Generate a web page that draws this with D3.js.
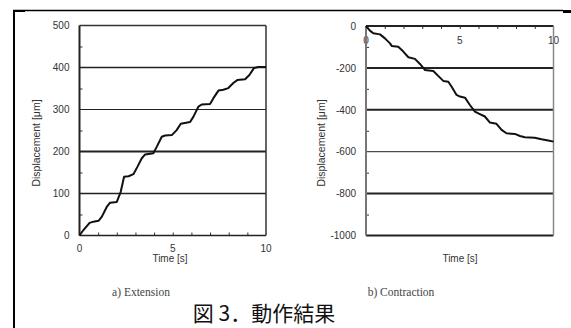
<!DOCTYPE html>
<html>
<head>
<meta charset="utf-8">
<script src="https://cdn.jsdelivr.net/npm/d3@7"></script>
<style>
  body { margin: 0; background: #fff; }
  svg { display: block; }
  .tick text { font-family: "Liberation Sans", Arial, sans-serif; font-size: 10px; fill: #333; }
  .lbl { font-family: "Liberation Sans", Arial, sans-serif; font-size: 10px; fill: #333; }
  .ytl { font-family: "Liberation Sans", Arial, sans-serif; font-size: 10.5px; fill: #333; }
  .cap { font-family: "Liberation Serif", "Times New Roman", serif; font-size: 11.5px; fill: #444; }
</style>
</head>
<body>
<svg width="571" height="328"></svg>
<script>
// a) extension, time [s] and displacement [um]
const extTime = [0, 0.21, 0.54, 0.75, 1.02, 1.2, 1.46, 1.64, 2.0, 2.21, 2.39, 2.63, 2.89, 3.11, 3.34, 3.52, 3.96, 4.14, 4.41, 4.59, 4.95, 5.21, 5.43, 5.93, 6.11, 6.38, 6.55, 7.0, 7.18, 7.45, 7.71, 7.98, 8.25, 8.46, 8.88, 9.11, 9.36, 9.59, 10];
const extDisp = [0, 13, 30, 33, 35, 45, 68, 78, 80, 104, 140, 141, 146, 164, 184, 193, 196, 211, 235, 238, 239, 251, 266, 270, 283, 307, 312, 313, 327, 345, 347, 351, 363, 370, 372, 382, 399, 401, 401];
// b) contraction
const conTime = [0, 0.21, 0.39, 0.75, 1.01, 1.28, 1.37, 1.72, 1.99, 2.26, 2.61, 2.88, 3.14, 3.59, 3.85, 4.12, 4.39, 4.56, 4.83, 5.01, 5.28, 5.54, 5.81, 5.99, 6.34, 6.61, 6.96, 7.23, 7.49, 7.94, 8.21, 8.47, 9.0, 9.36, 9.72, 10];
const conDisp = [0, -22, -35, -40, -59, -83, -95, -99, -122, -149, -157, -181, -210, -215, -238, -262, -266, -289, -329, -337, -342, -377, -409, -417, -432, -461, -467, -496, -512, -515, -525, -531, -533, -541, -547, -552];

const xTicks = [0, 5, 10];
const extYTicks = [0, 100, 200, 300, 400, 500];
const conYTicks = [0, -200, -400, -600, -800, -1000];
const extGrid = [100, 200, 300, 400];
const conGrid = [-200, -400, -600, -800];
const extMinor = [50, 150, 250, 350, 450];
const conMinor = [-100, -300, -500, -700, -900];
const secTicks = d3.range(1, 10);

const svg = d3.select("svg");

// frame around the figure
svg.append("line").attr("x1", 14).attr("x2", 14).attr("y1", 10).attr("y2", 328)
  .attr("stroke", "#000").attr("stroke-width", 2);
svg.append("line").attr("x1", 13).attr("x2", 563).attr("y1", 10.5).attr("y2", 10.5)
  .attr("stroke", "#000").attr("stroke-width", 1.5);
svg.append("rect").attr("x", 563).attr("y", 10).attr("width", 8).attr("height", 3).attr("fill", "#000");
svg.append("rect").attr("x", 14).attr("y", 10).attr("width", 11).attr("height", 2).attr("fill", "#000");

const gridW = { 100: 1.6, 200: 2, 300: 1, 400: 1.6, "-200": 2, "-400": 2, "-600": 1, "-800": 2 };

function panel(opt) {
  const x = d3.scaleLinear().domain([0, 10]).range(opt.xr);
  const y = d3.scaleLinear().domain(opt.yd).range(opt.yr);
  const g = svg.append("g");

  // gridlines
  g.selectAll(".grid").data(opt.grid).join("line")
    .attr("x1", x(0)).attr("x2", x(10))
    .attr("y1", d => y(d)).attr("y2", d => y(d))
    .attr("stroke", "#222").attr("stroke-width", d => gridW[d]);

  // minor y ticks, inward
  g.append("g").attr("transform", `translate(${x(0)},0)`)
    .call(d3.axisLeft(y).tickValues(opt.minor).tickSize(-3).tickFormat(""))
    .call(a => a.select(".domain").remove())
    .selectAll("line").attr("stroke", "#333");

  // y labels (plain hyphen minus, no thousands comma)
  g.append("g").attr("transform", `translate(${x(0) - 6},0)`)
    .call(d3.axisLeft(y).tickValues(opt.yTicks).tickSize(0).tickPadding(4).tickFormat(d => String(d)))
    .call(a => a.select(".domain").remove());

  // seconds ticks
  const xAxis = opt.top ? d3.axisTop(x) : d3.axisBottom(x);
  g.append("g").attr("transform", `translate(0,${opt.top ? y(0) : y(opt.yd[0])})`)
    .call(xAxis.tickValues(secTicks).tickSize(-3).tickFormat(""))
    .call(a => a.select(".domain").remove())
    .selectAll("line").attr("stroke", "#333");

  // x labels
  g.selectAll(".xl").data(xTicks).join("text").attr("class", "lbl")
    .attr("x", d => x(d)).attr("y", opt.xLabelY).attr("text-anchor", "middle").text(d => d);

  // box
  const [x0, x1] = opt.xr, [yb, yt] = opt.yr;
  const seg = (ax, ay, bx, by, c, w) => g.append("line")
    .attr("x1", ax).attr("y1", ay).attr("x2", bx).attr("y2", by)
    .attr("stroke", c).attr("stroke-width", w);
  seg(x0, yt, x1, yt, opt.top ? "#222" : "#333", opt.top ? 2 : 1.5);
  seg(x0, yb, x1, yb, "#222", opt.top ? 2 : 1.5);
  seg(x0, yt, x0, yb, opt.top ? "#777" : "#222", 2);
  seg(x1, yt, x1, yb, opt.top ? "#888" : "#333", 1.5);

  // data curve
  const pts = opt.t.map((t, i) => [t, opt.v[i]]);
  g.append("path").datum(pts)
    .attr("d", d3.line().x(d => x(d[0])).y(d => y(d[1])))
    .attr("fill", "none").attr("stroke", "#111").attr("stroke-width", 2)
    .attr("stroke-linejoin", "round");

  // titles
  g.append("text").attr("class", "ytl").attr("text-anchor", "middle")
    .attr("transform", `translate(${opt.ytX},143) rotate(-90)`).text("Displacement [μm]");
  g.append("text").attr("class", "lbl").attr("text-anchor", "middle")
    .attr("x", opt.tX).attr("y", 262).text("Time [s]");
  g.append("text").attr("class", "cap").attr("text-anchor", "middle")
    .attr("x", opt.capX).attr("y", 296).text(opt.cap);
}

panel({ xr: [79.5, 266], yr: [235.5, 25.5], yd: [0, 500], t: extTime, v: extDisp,
  grid: extGrid, minor: extMinor, yTicks: extYTicks, top: false, xLabelY: 252,
  ytX: 40, tX: 170, capX: 141, cap: "a) Extension" });

panel({ xr: [366, 553.5], yr: [235.5, 26], yd: [-1000, 0], t: conTime, v: conDisp,
  grid: conGrid, minor: conMinor, yTicks: conYTicks, top: true, xLabelY: 44,
  ytX: 325, tX: 460, capX: 401, cap: "b) Contraction" });

svg.append("text").attr("x", 264).attr("y", 321).attr("text-anchor", "middle")
  .attr("font-family", "'Noto Sans CJK JP', sans-serif").attr("font-size", 21)
  .attr("fill", "#111").text("図 3．動作結果");
</script>
</body>
</html>
